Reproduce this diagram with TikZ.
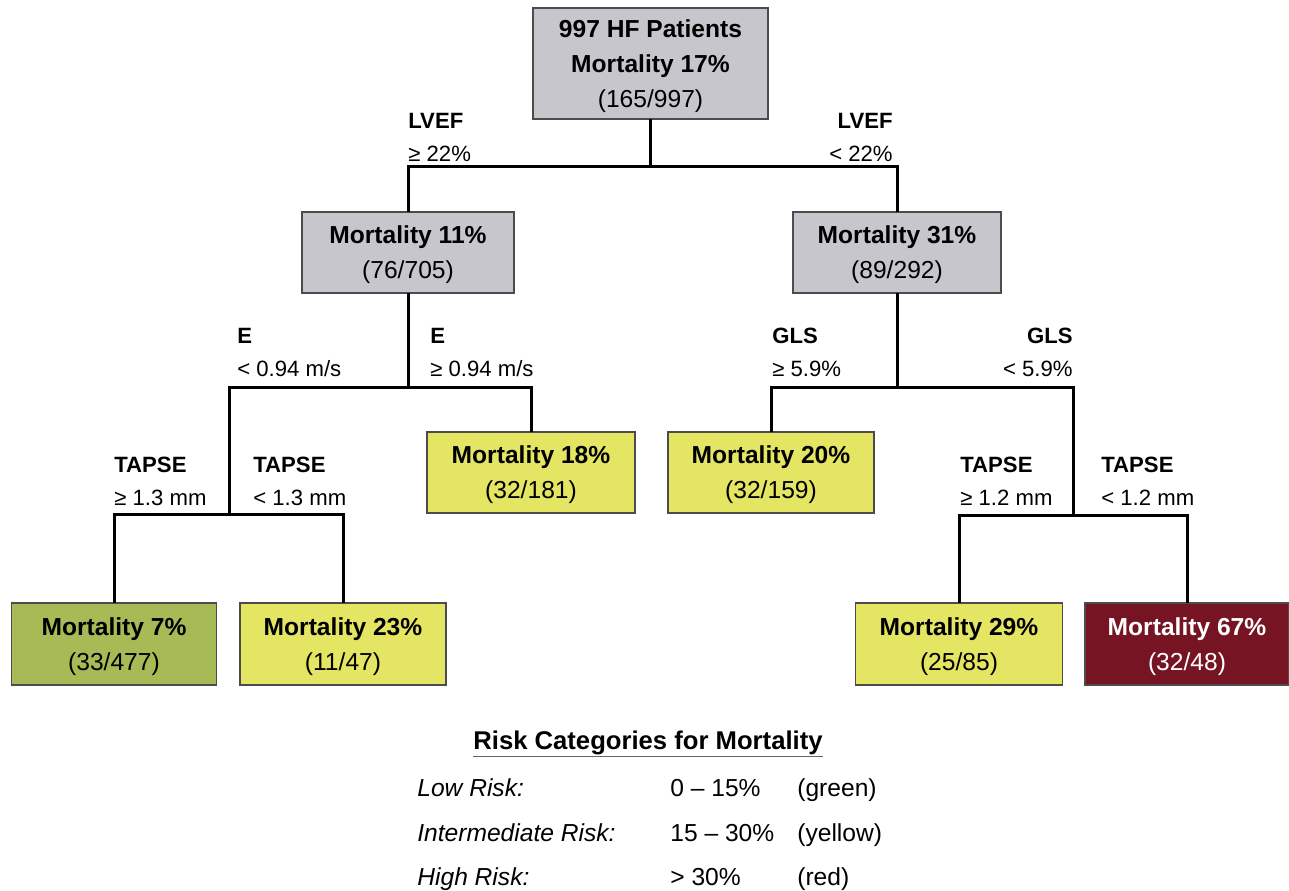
\documentclass[tikz,border=0pt]{standalone}
\usepackage{fontspec}
\setmainfont{Liberation Sans}
\usepackage{tikz}
\usetikzlibrary{calc}
\definecolor{boxgray}{RGB}{200,198,205}
\definecolor{lowrisk}{RGB}{166,186,86}
\definecolor{midrisk}{RGB}{228,229,98}
\definecolor{highrisk}{RGB}{118,20,36}
\tikzset{
	box/.style={
		draw=black!70,
		line width=.3mm,
		align=center,
		inner sep=0,
		outer sep=0,
		text depth=0pt,
		minimum height=1.62cm,
		font=\fontsize{14pt}{19.9pt}\selectfont,
	},
	edge/.style={
		line width=.6mm,
	},
	split/.style={
		inner sep=0,
		font=\fontsize{12.6pt}{18.7pt}\selectfont,
	},
	legend/.style={
		inner sep=0,
		anchor=base west,
		font=\fontsize{14pt}{17pt}\selectfont,
	}
}

\begin{document}
\begin{tikzpicture}[x=0.02cm,y=-0.02cm]

	\useasboundingbox (0,0) rectangle (1289,891);

	\node[box, fill=boxgray, minimum width=4.7cm, minimum height=2.22cm] (root) at (650.5,63.5) {\textbf{997 HF Patients}\\\textbf{Mortality 17\%}\\(165/997)};
	\node[box, fill=boxgray, minimum width=4.24cm] (mid1) at (408,252.5) {\textbf{Mortality 11\%}\\(76/705)};
	\node[box, fill=boxgray, minimum width=4.16cm] (mid2) at (897,252.5) {\textbf{Mortality 31\%}\\(89/292)};
	\node[box, fill=midrisk, minimum width=4.16cm] (m18) at (531,472.5) {\textbf{Mortality 18\%}\\(32/181)};
	\node[box, fill=midrisk, minimum width=4.12cm] (m20) at (771,472.5) {\textbf{Mortality 20\%}\\(32/159)};
	\node[box, fill=lowrisk, minimum width=4.1cm, minimum height=1.64cm] (m7) at (114,644) {\textbf{Mortality 7\%}\\(33/477)};
	\node[box, fill=midrisk, minimum width=4.12cm, minimum height=1.64cm] (m23) at (343,644) {\textbf{Mortality 23\%}\\(11/47)};
	\node[box, fill=midrisk, minimum width=4.14cm, minimum height=1.64cm] (m29) at (959,644) {\textbf{Mortality 29\%}\\(25/85)};
	\node[box, fill=highrisk, text=white, minimum width=4.08cm, minimum height=1.64cm] (m67) at (1187,644) {\textbf{Mortality 67\%}\\(32/48)};

	\coordinate (j1) at (root.south |- 0,167);
	\coordinate (j2) at (mid1.south |- 0,388);
	\coordinate (j3) at (mid2.south |- 0,388);
	\coordinate (j4) at (229,515);
	\coordinate (j5) at (1073,516);

	\draw[edge] (root.south) -- (j1);
	\draw[edge] (j1) -| (mid1.north);
	\draw[edge] (j1) -| (mid2.north);
	\draw[edge] (mid1.south) -- (j2);
	\draw[edge] (j2) -| (j4);
	\draw[edge] (j2) -| (m18.north);
	\draw[edge] (j4) -| (m7.north);
	\draw[edge] (j4) -| (m23.north);
	\draw[edge] (mid2.south) -- (j3);
	\draw[edge] (j3) -| (m20.north);
	\draw[edge] (j3) -| (j5);
	\draw[edge] (j5) -| (m29.north);
	\draw[edge] (j5) -| (m67.north);

	\node[split, align=left, anchor=north west] (lvef1) at (408,113) {\textbf{LVEF}\\≥ 22\%};
	\node[split, align=right, anchor=north east] (lvef2) at (893,113) {\textbf{LVEF}\\< 22\%};
	\node[split, align=left, anchor=north west] (e1) at (237,328) {\textbf{E}\\< 0.94 m/s};
	\node[split, align=left, anchor=north west] (e2) at (430,328) {\textbf{E}\\≥ 0.94 m/s};
	\node[split, align=left, anchor=north west] (gls1) at (772,328) {\textbf{GLS}\\≥ 5.9\%};
	\node[split, align=right, anchor=north east] (gls2) at (1073,328) {\textbf{GLS}\\< 5.9\%};
	\node[split, align=left, anchor=north west] (tapse1) at (114,457) {\textbf{TAPSE}\\≥ 1.3 mm};
	\node[split, align=left, anchor=north west] (tapse2) at (253,457) {\textbf{TAPSE}\\< 1.3 mm};
	\node[split, align=left, anchor=north west] (tapse3) at (960,457) {\textbf{TAPSE}\\≥ 1.2 mm};
	\node[split, align=left, anchor=north west] (tapse4) at (1101,457) {\textbf{TAPSE}\\< 1.2 mm};

	\node[inner sep=0, anchor=base, font=\fontsize{14.6pt}{17pt}\selectfont\bfseries] (legtitle) at (648,750) {Risk Categories for Mortality};
	\draw[black!60, line width=.35mm] ([yshift=-1.3mm]legtitle.base west) -- ([yshift=-1.3mm]legtitle.base east);

	\node[legend] (low) at (417,797) {\itshape Low Risk:};
	\node[legend] (lowval) at (670,797) {0 -- 15\%};
	\node[legend] (lowcol) at (797,797) {(green)};
	\node[legend] (inter) at (417,842) {\itshape Intermediate Risk:};
	\node[legend] (interval) at (670,842) {15 -- 30\%};
	\node[legend] (intercol) at (797,842) {(yellow)};
	\node[legend] (high) at (417,886) {\itshape High Risk:};
	\node[legend] (highval) at (670,886) {> 30\%};
	\node[legend] (highcol) at (797,886) {(red)};

\end{tikzpicture}
\end{document}
